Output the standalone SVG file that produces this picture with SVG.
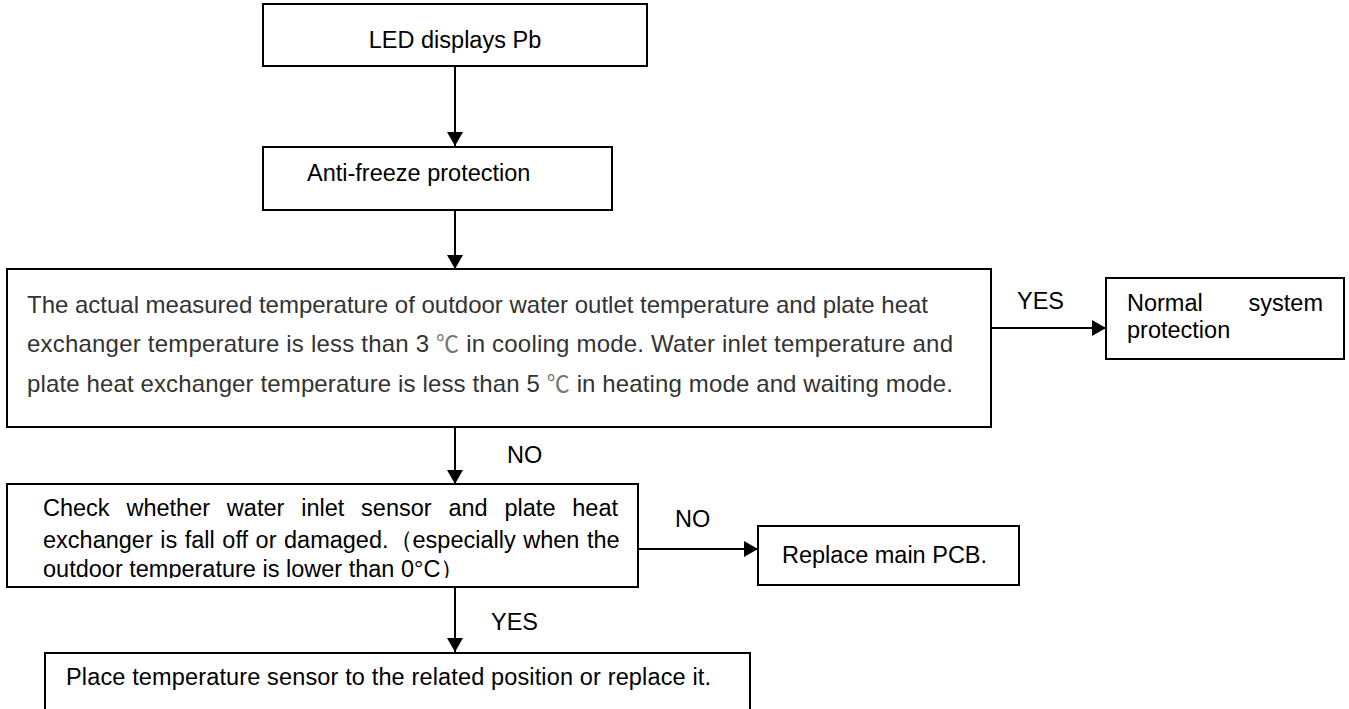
<svg xmlns="http://www.w3.org/2000/svg" width="1349" height="709" viewBox="0 0 1349 709">
<style>
.box{fill:#fff;stroke:#000;stroke-width:2}
.t{font-family:"Liberation Sans",Arial,sans-serif;font-size:23.5px;fill:#000}
.g{fill:#333;font-size:24px}
.deg{font-family:"Noto Sans CJK SC","Liberation Sans",sans-serif;fill:#777;font-size:23px}
.con{stroke:#000;stroke-width:2;fill:none}
</style>
<defs>
<marker id="ah" markerUnits="userSpaceOnUse" markerWidth="16" markerHeight="16" refX="14" refY="8" orient="auto" viewBox="0 0 16 16">
<path d="M0,0 L14,8 L0,16 Z" fill="#000"/>
</marker>
<clipPath id="clipCheck"><rect x="8" y="485" width="629" height="93"/></clipPath>
</defs>
<rect width="1349" height="709" fill="#fff"/>
<g id="connectors">
<line class="con" x1="455" y1="66" x2="455" y2="146" marker-end="url(#ah)"/>
<line class="con" x1="455" y1="210" x2="455" y2="269" marker-end="url(#ah)"/>
<line class="con" x1="991" y1="328" x2="1106" y2="328" marker-end="url(#ah)"/>
<line class="con" x1="455" y1="427" x2="455" y2="484" marker-end="url(#ah)"/>
<line class="con" x1="638" y1="549" x2="758" y2="549" marker-end="url(#ah)"/>
<line class="con" x1="455" y1="587" x2="455" y2="652" marker-end="url(#ah)"/>
<text class="t" x="1017" y="309">YES</text>
<text class="t" x="507" y="463">NO</text>
<text class="t" x="675" y="527">NO</text>
<text class="t" x="491" y="630">YES</text>
</g>
<g id="n1">
<rect class="box" x="263" y="4" width="384" height="62"/>
<text class="t" x="455" y="48" text-anchor="middle">LED displays Pb</text>
</g>
<g id="n2">
<rect class="box" x="263" y="147" width="349" height="63"/>
<text class="t" x="307" y="181">Anti-freeze protection</text>
</g>
<g id="n3">
<rect class="box" x="7" y="269" width="984" height="158"/>
<text class="t g" x="27" y="313" textLength="901" lengthAdjust="spacing">The actual measured temperature of outdoor water outlet temperature and plate heat</text>
<text class="t g" x="27" y="352" textLength="926" lengthAdjust="spacing">exchanger temperature is less than 3 <tspan class="deg">℃</tspan> in cooling mode.  Water inlet temperature and</text>
<text class="t g" x="27" y="392" textLength="926" lengthAdjust="spacing">plate heat exchanger temperature is less than 5 <tspan class="deg">℃</tspan> in heating mode and waiting mode.</text>
</g>
<g id="n4">
<rect class="box" x="1106" y="278" width="238" height="81"/>
<text class="t" x="1127" y="311">Normal</text>
<text class="t" x="1323" y="311" text-anchor="end">system</text>
<text class="t" x="1127" y="338">protection</text>
</g>
<g id="n5">
<rect class="box" x="7" y="484" width="631" height="103"/>
<g clip-path="url(#clipCheck)">
<text class="t" x="43" y="516" style="word-spacing:10.3px">Check whether water inlet sensor and plate heat</text>
<text class="t" x="43" y="548" style="word-spacing:1px">exchanger is fall off or damaged.（especially when the</text>
<text class="t" x="43" y="577">outdoor temperature is lower than 0°C）</text>
</g>
</g>
<g id="n6">
<rect class="box" x="758" y="526" width="261" height="59"/>
<text class="t" x="782" y="563">Replace main PCB.</text>
</g>
<g id="n7">
<rect class="box" x="45" y="653" width="705" height="80"/>
<text class="t" x="66" y="685" textLength="645" lengthAdjust="spacing">Place temperature sensor to the related position or replace it.</text>
</g>
</svg>
